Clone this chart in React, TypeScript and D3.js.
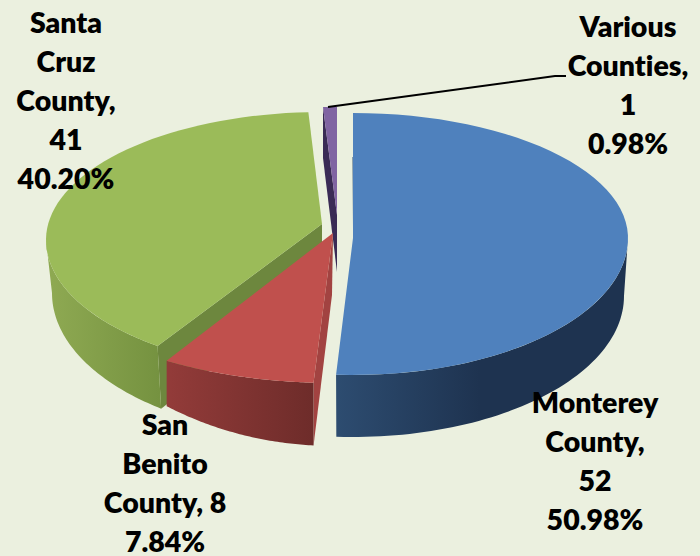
import React from "react";
import * as d3 from "d3";

const categories = ["Monterey County", "San Benito County", "Santa Cruz County", "Various Counties"];
const values = [52, 8, 41, 1];
const labelLines = [
  ["Monterey", "County,", "52", "50.98%"],
  ["San", "Benito", "County, 8", "7.84%"],
  ["Santa", "Cruz", "County,", "41", "40.20%"],
  ["Various", "Counties,", "1", "0.98%"],
];
const faceColors = ["#4f81bd", "#c0504d", "#9bbb59", "#8064a2"];

const W = 700;
const H = 556;
const BG = "#ebf0df";

type Rim = { cx: number; cy: number; rx: number; ryTop: number; ryBot: number };
type Geo = {
  apex: [number, number];
  apexLow: [number, number];
  top: Rim;
  bot: Rim;
  nudge: [number, number];
  sideTo: number;
};

const rad = (d: number) => (d * Math.PI) / 180;

const geometry: Geo[] = [
  {
    apex: [353, 238], apexLow: [353, 296],
    top: { cx: 353, cy: 238, rx: 275, ryTop: 125, ryBot: 137 },
    bot: { cx: 353, cy: 296, rx: 271, ryTop: 141, ryBot: 141 },
    nudge: [0, 0], sideTo: rad(90),
  },
  {
    apex: [333, 233], apexLow: [332, 295],
    top: { cx: 333, cy: 235, rx: 316, ryTop: 148, ryBot: 148 },
    bot: { cx: 333, cy: 180, rx: 316, ryTop: 266, ryBot: 266 },
    nudge: [0, 0], sideTo: 0,
  },
  {
    apex: [322, 224], apexLow: [322, 282],
    top: { cx: 322, cy: 240, rx: 276, ryTop: 128, ryBot: 132 },
    bot: { cx: 322, cy: 293, rx: 270, ryTop: 144, ryBot: 144 },
    nudge: [rad(4.8), rad(0.7)], sideTo: rad(270),
  },
  {
    apex: [337, 215], apexLow: [337, 272],
    top: { cx: 337, cy: 215, rx: 222, ryTop: 108, ryBot: 108 },
    bot: { cx: 337, cy: 272, rx: 222, ryTop: 112, ryBot: 112 },
    nudge: [0, 0], sideTo: 0,
  },
];

const rimPoint = (r: Rim, a: number): [number, number] => {
  const c = Math.cos(a);
  return [r.cx + r.rx * Math.sin(a), r.cy - (c > 0 ? r.ryTop : r.ryBot) * c];
};
const rimPoints = (r: Rim, a0: number, a1: number): [number, number][] =>
  d3.range(0, 61).map((i) => rimPoint(r, a0 + ((a1 - a0) * i) / 60));

const lineGen = d3.line<[number, number]>();
const closed = (pts: [number, number][]) => lineGen(pts) + "Z";

const pieGen = d3.pie<number>().sort(null).startAngle(0).endAngle(2 * Math.PI);
const arcs = pieGen(values);

const sideGradients = [
  { id: "g0", x1: 337, x2: 480, from: "#2d4c70", to: "#1e3350" },
  { id: "g1", x1: 170, x2: 313, from: "#923b39", to: "#6e2c2a" },
  { id: "g2", x1: 50, x2: 160, from: "#8ea952", to: "#759240" },
];
const innerColors = ["#2a4a70", "#a24341", "#6d873e", "#3a2b55"];

const labelAnchors: [number, number][] = [
  [595, 413],
  [165, 435],
  [66, 33],
  [628, 37],
];
const LINE = 39;

export default function App() {
  const slices = arcs.map((d, i) => {
    const g = geometry[i];
    const a0 = d.startAngle + g.nudge[0];
    const a1 = d.endAngle + g.nudge[1];
    return { g, a0, a1, i };
  });
  const drawOrder = [3, 2, 1, 0];
  return (
    <svg
      width={W}
      height={H}
      viewBox={`0 0 ${W} ${H}`}
      style={{ position: "fixed", left: 0, top: 0, display: "block", background: BG }}
      role="img"
      aria-label={categories.join(", ")}
    >
      <defs>
        {sideGradients.map((s) => (
          <linearGradient key={s.id} id={s.id} gradientUnits="userSpaceOnUse" x1={s.x1} x2={s.x2} y1={0} y2={0}>
            <stop offset="0" stopColor={s.from} />
            <stop offset="1" stopColor={s.to} />
          </linearGradient>
        ))}
      </defs>
      <rect width={W} height={H} fill={BG} />

      {drawOrder.map((idx) => {
        const { g, a0, a1, i } = slices[idx];
        const startTop = rimPoint(g.top, a0);
        const startBot = rimPoint(g.bot, a0);
        return (
          <g key={i}>
            {i === 3 && (
              <path d={closed([[323, 107], [323, 158], g.apexLow, g.apex])} fill={innerColors[3]} />
            )}
            {(i === 2 || i === 1) && (
              <path d={closed([g.apex, startTop, startBot, g.apexLow])} fill={innerColors[i]} />
            )}
            {i === 2 && (
              <path
                d={closed([...rimPoints(g.bot, a0, g.sideTo), ...rimPoints(g.top, g.sideTo, a0)])}
                fill="url(#g2)"
              />
            )}
            {i === 1 && (
              <path
                d={closed([...rimPoints(g.bot, a0, a1), ...rimPoints(g.top, a1, a0)])}
                fill="url(#g1)"
              />
            )}
            {i === 0 && (
              <>
                <path
                  d={closed([...rimPoints(g.bot, g.sideTo, a1), ...rimPoints(g.top, a1, g.sideTo)])}
                  fill="url(#g0)"
                />
                <path d={lineGen([[353, 157], [353.5, 228]]) as string} stroke={innerColors[0]} strokeWidth={1} fill="none" />
              </>
            )}
            {i === 3 ? (
              <path d={closed([[323, 107], [337, 107], g.apex])} fill={faceColors[3]} />
            ) : (
              <path d={closed([g.apex, ...rimPoints(g.top, a0, a1)])} fill={faceColors[i]} />
            )}
          </g>
        );
      })}

      <path
        d={lineGen([[328, 107], [555, 76], [566, 76]]) as string}
        fill="none"
        stroke="#000"
        strokeWidth={2}
      />

      {labelLines.map((lines, i) => (
        <text
          key={i}
          textAnchor="middle"
          fontFamily="Lato, Carlito, sans-serif"
          fontWeight={800}
          fontSize={28.5}
          fill="#000"
          style={{ fontVariantLigatures: "none" }}
        >
          {lines.map((t, j) => (
            <tspan key={j} x={labelAnchors[i][0]} y={labelAnchors[i][1] + j * LINE}>
              {t}
            </tspan>
          ))}
        </text>
      ))}
    </svg>
  );
}
